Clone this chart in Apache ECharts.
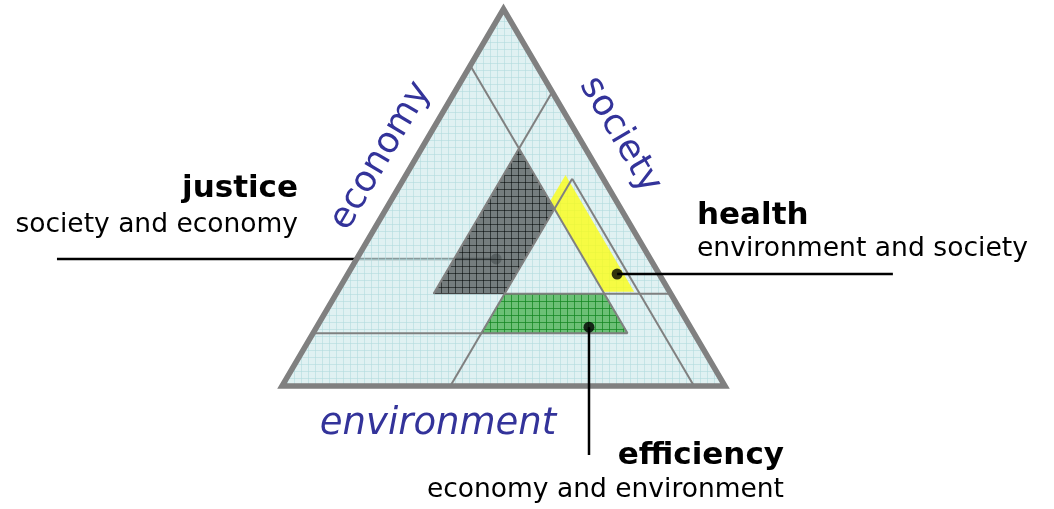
<!DOCTYPE html>
<html>
<head>
<meta charset="utf-8">
<script src="https://cdn.jsdelivr.net/npm/echarts@6/dist/echarts.min.js"></script>
<style>
  html, body { margin: 0; padding: 0; background: #fff; }
  #chart { width: 1054px; height: 509px; }
</style>
</head>
<body>
<div id="chart"></div>
<script>
// ternary points are [l, r, b] = share measured from the left side, the right side and the base
var sideNames = ['economy', 'society', 'environment'];
var frame = [[0, 0, 1], [0, 1, 0], [1, 0, 0]];

var justiceZone = [[0.22, 0.15, 0.63], [0.38, 0.15, 0.47], [0.38, 0.375, 0.245], [0.22, 0.535, 0.245]];
var healthZone = [[0.36, 0.08, 0.56], [0.67, 0.08, 0.25], [0.60, 0.15, 0.25], [0.36, 0.15, 0.49]];
var efficiencyZone = [[0.38, 0.375, 0.245], [0.605, 0.15, 0.245], [0.71, 0.15, 0.14], [0.38, 0.48, 0.14]];

// thin grey dividing lines
var dividers = [
  [[0, 0.86, 0.14], [0.71, 0.15, 0.14]],
  [[0.38, 0.375, 0.245], [0.755, 0, 0.245]],
  [[0, 0.15, 0.85], [0.71, 0.15, 0.14]],
  [[0.38, 0.07, 0.55], [0.93, 0.07, 0]],
  [[0.22, 0, 0.78], [0.22, 0.535, 0.245]],
  [[0.38, 0.62, 0], [0.38, 0.07, 0.55]]
];

var zoneNames = ['justice', 'health', 'efficiency'];
var zoneSubtitles = ['society and economy', 'environment and society', 'economy and environment'];
var zoneDots = [[0.315, 0.348, 0.337], [0.608, 0.095, 0.297], [0.615, 0.229, 0.156]];
// leader line ends in plot units [x, y]; null = same as the dot
var leaderEnds = [[-0.508, null], [1.379, null], [null, -0.183]];

function toXY(p) {
  return [p[0] + p[2] / 2, p[2]];
}

// clip a 7px lattice to a convex polygon (pixel coords)
function lattice(pts, step, color) {
  var out = [];
  var n = pts.length;
  function cut(v, axis) {
    var o = 1 - axis, hits = [];
    for (var i = 0; i < n; i++) {
      var p = pts[i], q = pts[(i + 1) % n];
      if (p[axis] === q[axis]) continue;
      var t = (v - p[axis]) / (q[axis] - p[axis]);
      if (t >= 0 && t <= 1) hits.push(p[o] + t * (q[o] - p[o]));
    }
    return hits;
  }
  for (var axis = 0; axis < 2; axis++) {
    var vals = pts.map(function (p) { return p[axis]; });
    var lo = Math.min.apply(null, vals), hi = Math.max.apply(null, vals);
    for (var v = Math.ceil(lo / step) * step + 0.5; v < hi; v += step) {
      var h = cut(v, axis);
      if (h.length < 2) continue;
      var a = Math.min.apply(null, h), b = Math.max.apply(null, h);
      var shape = axis === 0 ? { x1: v, y1: a, x2: v, y2: b } : { x1: a, y1: v, x2: b, y2: v };
      out.push({ type: 'line', shape: shape, silent: true, style: { stroke: color, lineWidth: 1 } });
    }
  }
  return out;
}

var zones = [justiceZone, healthZone, efficiencyZone];
var zoneStyles = [
  { fill: 'rgba(45,48,48,0.6)', grid: 'rgba(0,0,0,0.5)', stroke: '#3a3a3a' },
  { fill: 'rgba(255,255,0,0.72)', grid: null, stroke: null },
  { fill: 'rgba(80,180,88,0.8)', grid: 'rgba(20,135,35,0.75)', stroke: '#3b8f44' }
];

var myChart = echarts.init(document.getElementById('chart'));

function leaderSeries(i, z) {
  var d = toXY(zoneDots[i]);
  var e = [leaderEnds[i][0] === null ? d[0] : leaderEnds[i][0], leaderEnds[i][1] === null ? d[1] : leaderEnds[i][1]];
  return [{
    type: 'line', z: z, data: [e, d], symbol: 'none', silent: true,
    lineStyle: { color: '#000', width: 2.5 }
  }, {
    type: 'scatter', z: z, data: [d], symbolSize: 11, silent: true,
    itemStyle: { color: '#000' }
  }];
}

var font = '"DejaVu Sans", Verdana, sans-serif';
var texts = [
  { x: 298, y: 189, text: zoneNames[0], font: 'bold 31px ' + font, align: 'right' },
  { x: 298, y: 225, text: zoneSubtitles[0], font: '26.5px ' + font, align: 'right' },
  { x: 697, y: 216, text: zoneNames[1], font: 'bold 31px ' + font, align: 'left' },
  { x: 697, y: 249, text: zoneSubtitles[1], font: '26.6px ' + font, align: 'left' },
  { x: 784, y: 456, text: zoneNames[2], font: 'bold 31px ' + font, align: 'right' },
  { x: 784, y: 490, text: zoneSubtitles[2], font: '26.5px ' + font, align: 'right' }
];
var graphics = texts.map(function (t) {
  return {
    type: 'text', x: t.x, y: t.y, silent: true,
    style: { text: t.text, font: t.font, fill: '#000', align: t.align, verticalAlign: 'middle' }
  };
});
graphics.push(
  { type: 'text', x: 381, y: 156, rotation: 1.04, silent: true,
    style: { text: sideNames[0], font: '36px ' + font, fill: '#33339a', align: 'center', verticalAlign: 'middle' } },
  { type: 'text', x: 620, y: 135, rotation: -1.04, silent: true,
    style: { text: sideNames[1], font: '36px ' + font, fill: '#33339a', align: 'center', verticalAlign: 'middle' } },
  { type: 'text', x: 438, y: 424, silent: true,
    style: { text: sideNames[2], font: 'italic 37px ' + font, fill: '#33339a', align: 'center', verticalAlign: 'middle' } }
);

var series = [].concat(leaderSeries(0, 1), [
  {
    // triangle background with graph paper
    type: 'custom', z: 2, silent: true, data: [0],
    renderItem: function (params, api) {
      var pts = frame.map(function (p) { return api.coord(toXY(p)); });
      return {
        type: 'group',
        children: [{ type: 'polygon', shape: { points: pts }, style: { fill: 'rgba(208,234,235,0.66)' } }]
          .concat(lattice(pts, 7, 'rgba(175,218,220,0.55)'))
      };
    }
  },
  {
    type: 'custom', z: 3, silent: true, data: [0, 1, 2],
    renderItem: function (params, api) {
      var i = params.dataIndex;
      var pts = zones[i].map(function (p) { return api.coord(toXY(p)); });
      var st = zoneStyles[i];
      var kids = [{ type: 'polygon', shape: { points: pts }, style: { fill: st.fill } }];
      if (st.grid) kids = kids.concat(lattice(pts, 7, st.grid));
      if (st.stroke) kids.push({ type: 'polygon', shape: { points: pts }, style: { fill: null, stroke: st.stroke, lineWidth: 1 } });
      return { type: 'group', children: kids };
    }
  },
  {
    type: 'custom', z: 4, silent: true, data: dividers.map(function (d, i) { return i; }),
    renderItem: function (params, api) {
      var seg = dividers[params.dataIndex];
      var a = api.coord(toXY(seg[0])), b = api.coord(toXY(seg[1]));
      return { type: 'line', shape: { x1: a[0], y1: a[1], x2: b[0], y2: b[1] }, style: { stroke: '#808080', lineWidth: 2 } };
    }
  },
  {
    type: 'custom', z: 5, silent: true, data: [0],
    renderItem: function (params, api) {
      var pts = frame.map(function (p) { return api.coord(toXY(p)); });
      return { type: 'polygon', shape: { points: pts }, style: { fill: null, stroke: '#808080', lineWidth: 5.5, lineJoin: 'miter' } };
    }
  }
], leaderSeries(1, 6), leaderSeries(2, 6));

myChart.setOption({
  animation: false,
  grid: { left: 0, right: 0, top: 0, bottom: 0 },
  xAxis: { type: 'value', min: -0.6366, max: 1.7427, show: false },
  yAxis: { type: 'value', min: -0.3263, max: 1.0239, show: false },
  graphic: graphics,
  series: series
});
</script>
</body>
</html>
